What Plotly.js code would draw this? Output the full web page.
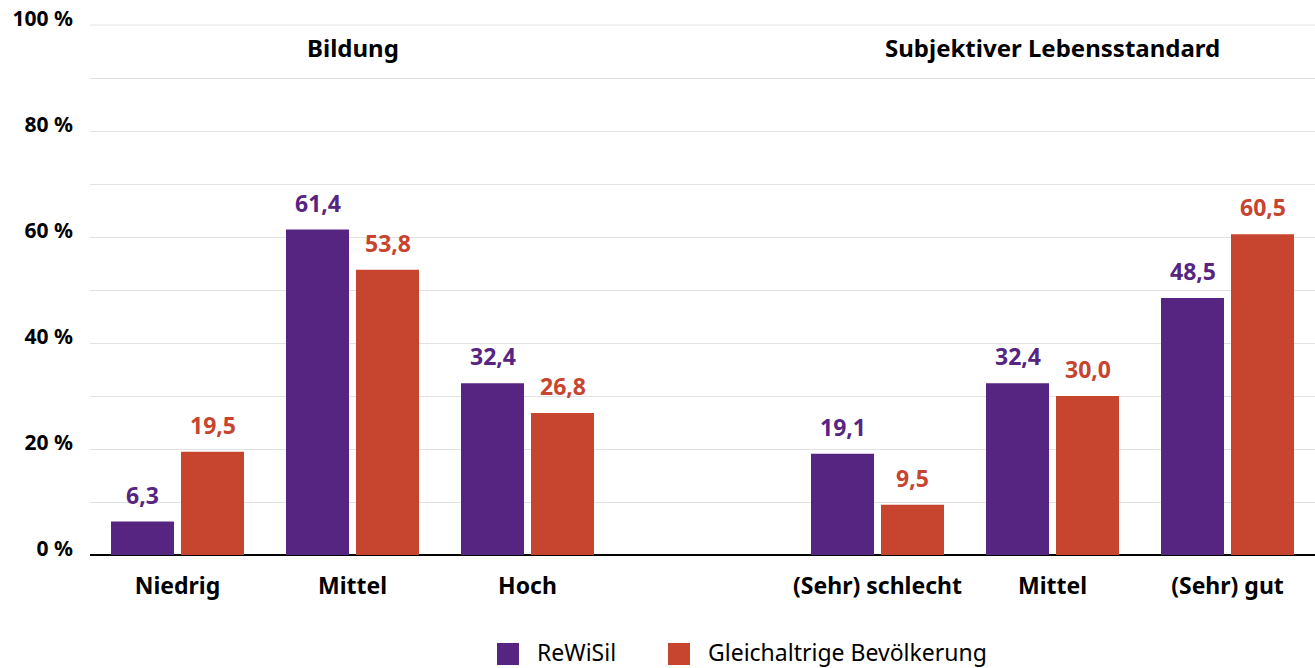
<!DOCTYPE html>
<html>
<head>
<meta charset="utf-8">
<script src="https://cdn.plot.ly/plotly-3.0.1.min.js"></script>
<style>
  html, body { margin: 0; padding: 0; background: #fff; }
  #chart { width: 1315px; height: 668px; }
</style>
</head>
<body>
<div id="chart"></div>
<script>
// categories (empty slot separates the two groups)
const categories = ['Niedrig', 'Mittel', 'Hoch', '', '(Sehr) schlecht', 'Mittel', '(Sehr) gut'];
const rewisil = [6.3, 61.4, 32.4, null, 19.1, 32.4, 48.5];
const bevoelkerung = [19.5, 53.8, 26.8, null, 9.5, 30.0, 60.5];
const groupTitles = ['Bildung', 'Subjektiver Lebensstandard'];
const groupCenters = [1, 5];
const seriesNames = ['ReWiSil', 'Gleichaltrige Bevölkerung'];

const PURPLE = '#562581';
const ORANGE = '#c7442e';
const FONT = 'Noto Sans, sans-serif';

const xs = categories.map((c, i) => i);

const traces = [
    {
        type: 'bar', x: xs, y: rewisil, name: seriesNames[0],
        marker: {color: PURPLE}, showlegend: false, hoverinfo: 'skip'
    },
    {
        type: 'bar', x: xs, y: bevoelkerung, name: seriesNames[1],
        marker: {color: ORANGE}, showlegend: false, hoverinfo: 'skip'
    }
];

// value labels above the bars
const fmt = v => v.toFixed(1).replace('.', ',');
const annotations = [];
[[rewisil, PURPLE, -35], [bevoelkerung, ORANGE, 35]].forEach(([vals, col, dx]) => {
    vals.forEach((v, i) => {
        if (v === null) return;
        annotations.push({
            x: i, y: v, xref: 'x', yref: 'y', text: fmt(v), showarrow: false,
            xshift: dx, yshift: 9, yanchor: 'bottom',
            font: {family: FONT, size: 23, color: col, weight: 'bold'}
        });
    });
});

// group headings
groupTitles.forEach((t, k) => {
    annotations.push({
        x: groupCenters[k], y: 0.958, xref: 'x', yref: 'paper', text: t, showarrow: false,
        yanchor: 'middle',
        font: {family: FONT, size: 24, color: '#000', weight: 'bold'}
    });
});

// top grid line (100 %) sits on the plot edge, draw it explicitly
const shapes = [{
    type: 'line', xref: 'paper', yref: 'paper', x0: 0, x1: 1, y0: 1, y1: 1,
    line: {color: '#e2e2e2', width: 1}
}];

// legend (drawn by hand to get the big squares)
const legendX = [497, 668];
seriesNames.forEach((n, k) => {
    const col = k === 0 ? PURPLE : ORANGE;
    shapes.push({
        type: 'rect', xref: 'paper', yref: 'paper',
        x0: (legendX[k] - 90) / 1225, x1: (legendX[k] + 22 - 90) / 1225,
        y0: (555 - 665) / 530, y1: (555 - 643) / 530,
        fillcolor: col, line: {width: 0}
    });
    annotations.push({
        xref: 'paper', yref: 'paper', x: (legendX[k] + 38 - 90) / 1225, y: (555 - 652) / 530,
        xanchor: 'left', yanchor: 'middle', text: n, showarrow: false,
        font: {family: FONT, size: 23, color: '#000'}
    });
});

const layout = {
    width: 1315, height: 668,
    margin: {l: 90, r: 0, t: 25, b: 113},
    paper_bgcolor: '#fff', plot_bgcolor: '#fff',
    barmode: 'group', bargap: 0.2, bargroupgap: 0.1,
    showlegend: false,
    font: {family: FONT, color: '#000'},
    xaxis: {
        range: [-0.5, 6.5], tickvals: xs, ticktext: categories,
        showgrid: false, zeroline: false, ticks: '',
        ticklabelstandoff: 15,
        tickfont: {family: FONT, size: 23, color: '#000', weight: 'bold'}
    },
    yaxis: {
        range: [0, 100], dtick: 20, ticksuffix: ' %',
        gridcolor: '#e2e2e2', gridwidth: 1,
        minor: {dtick: 10, showgrid: true, gridcolor: '#e2e2e2', gridwidth: 1},
        zeroline: true, zerolinecolor: '#000', zerolinewidth: 2.5,
        ticks: '', ticklabelstandoff: 16, ticklabelshift: -6,
        tickfont: {family: FONT, size: 21, color: '#000', weight: 'bold'}
    },
    annotations: annotations,
    shapes: shapes
};

Plotly.newPlot('chart', traces, layout, {displayModeBar: false, staticPlot: true});
</script>
</body>
</html>
